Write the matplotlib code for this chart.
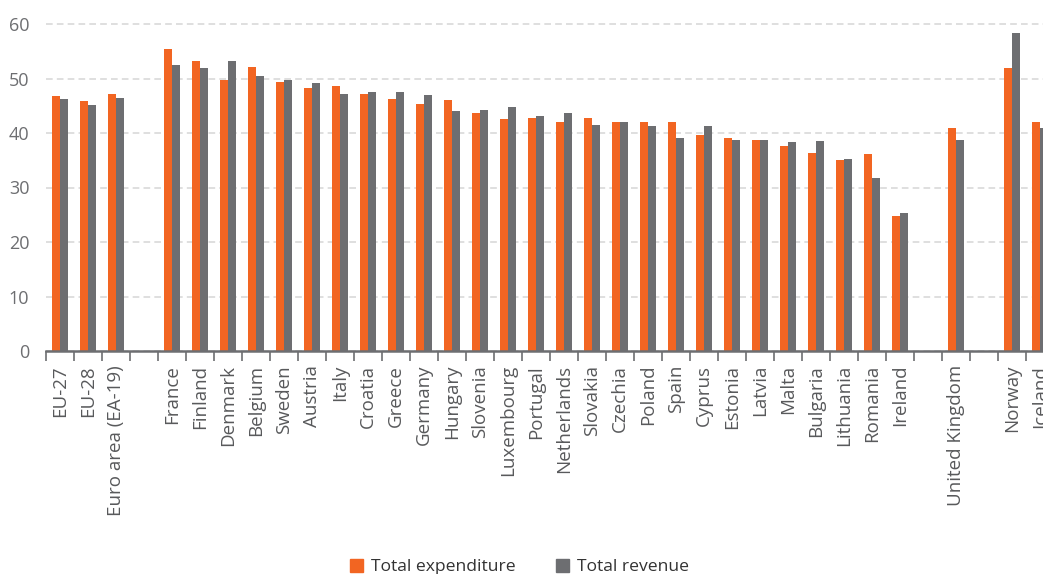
import numpy as np
import matplotlib
matplotlib.use("Agg")
import matplotlib.pyplot as plt
from matplotlib.patches import Patch

# General government expenditure and revenue, % of GDP
aggregates = ["EU-27", "EU-28", "Euro area (EA-19)"]
agg_expenditure = [46.7, 45.8, 47.1]
agg_revenue = [46.2, 45.1, 46.4]

members = ["France", "Finland", "Denmark", "Belgium", "Sweden", "Austria", "Italy",
           "Croatia", "Greece", "Germany", "Hungary", "Slovenia", "Luxembourg",
           "Portugal", "Netherlands", "Slovakia", "Czechia", "Poland", "Spain",
           "Cyprus", "Estonia", "Latvia", "Malta", "Bulgaria", "Lithuania",
           "Romania", "Ireland"]
mem_expenditure = [55.5, 53.3, 49.7, 52.2, 49.3, 48.2, 48.6,
                   47.1, 46.2, 45.3, 46.0, 43.6, 42.5,
                   42.7, 42.0, 42.7, 42.0, 42.1, 42.0,
                   39.6, 39.0, 38.8, 37.7, 36.3, 35.0,
                   36.1, 24.7]
mem_revenue = [52.4, 52.0, 53.3, 50.4, 49.7, 49.1, 47.1,
               47.5, 47.6, 46.9, 44.0, 44.3, 44.7,
               43.1, 43.6, 41.4, 42.1, 41.2, 39.0,
               41.2, 38.7, 38.7, 38.3, 38.5, 35.2,
               31.7, 25.3]

uk = ["United Kingdom"]
uk_expenditure = [41.0]
uk_revenue = [38.8]

efta = ["Norway", "Iceland"]
efta_expenditure = [51.9, 42.0]
efta_revenue = [58.3, 41.0]

ORANGE = "#f26522"
GREY = "#6d6e71"

# assemble the groups with an empty slot between them
groups = [(aggregates, agg_expenditure, agg_revenue),
          (members, mem_expenditure, mem_revenue),
          (uk, uk_expenditure, uk_revenue),
          (efta, efta_expenditure, efta_revenue)]
labels, expenditure, revenue = [], [], []
for k, (names, exp, rev) in enumerate(groups):
    if k > 0:
        labels.append("")
        expenditure.append(np.nan)
        revenue.append(np.nan)
    labels += names
    expenditure += exp
    revenue += rev

x = np.arange(len(labels))
width = 0.3

plt.rcParams["font.family"] = ["Open Sans", "DejaVu Sans"]
fig = plt.figure(figsize=(10.43, 5.74), dpi=100)
ax = fig.add_axes([46 / 1043, 1 - 351 / 574, 1 - 46 / 1043, (351 - 13) / 574])

ax.bar(x - width / 2, expenditure, width, color=ORANGE, zorder=3)
ax.bar(x + width / 2, revenue, width, color=GREY, zorder=3)

ax.set_yticks(range(0, 61, 10))
ax.yaxis.grid(True, color="#d9d9d9", linestyle=(0, (4, 2.5)), linewidth=1.2, zorder=0)

ax.set_xticks(x)
ax.set_xticklabels(labels, rotation=90, fontsize=13.5, color="#58595b")
ax.set_xticks(np.arange(-0.5, len(labels), 1), minor=True)
ax.tick_params(axis="x", which="major", length=0, pad=10)
ax.tick_params(axis="x", which="minor", length=7, width=1.2, color=GREY)
ax.tick_params(axis="y", length=0, pad=12, labelsize=13, labelcolor="#6d6e71")

# limits last, so the tick placement does not widen them
ax.set_xlim(-0.5, 35.11)
ax.set_ylim(0, 60 + 11 / 5.45)

for side in ("top", "right", "left"):
    ax.spines[side].set_visible(False)
ax.spines["bottom"].set_color(GREY)
ax.spines["bottom"].set_linewidth(1.8)
ax.spines["bottom"].set_zorder(4)

handles = [Patch(color=ORANGE, label="Total expenditure"),
           Patch(color=GREY, label="Total revenue")]
fig.legend(handles=handles, loc="center", bbox_to_anchor=(0.498, 0.012), ncol=2,
           frameon=False, fontsize=12.6, handlelength=0.75, handleheight=0.75,
           handletextpad=0.45, columnspacing=2.3, labelcolor="#333333")

fig.savefig("out.png", dpi=100)
